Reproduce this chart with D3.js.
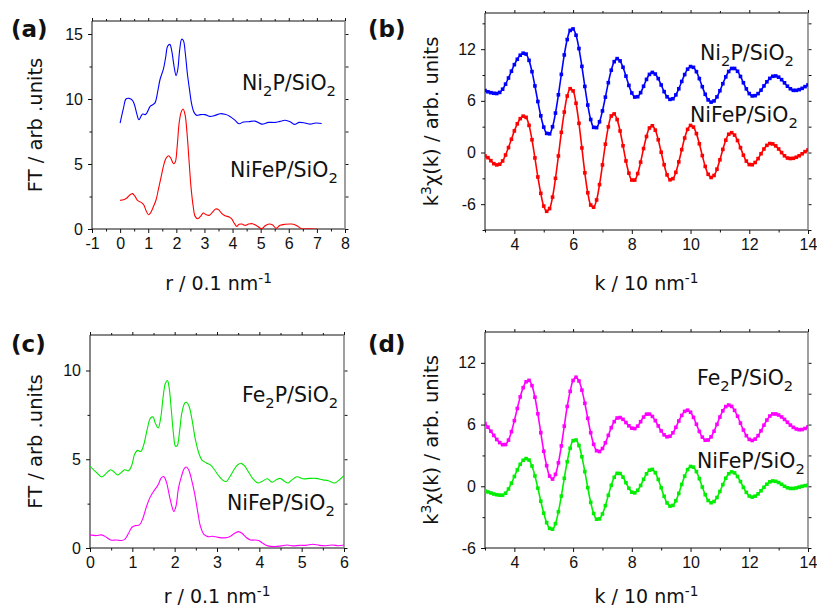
<!DOCTYPE html>
<html>
<head>
<meta charset="utf-8">
<script src="https://cdn.jsdelivr.net/npm/d3@7"></script>
<style>
body { margin: 0; background: #fff; }
svg text { font-family: "DejaVu Sans", sans-serif; fill: #111; }
.tick text { font-family: "Liberation Sans", Arial, sans-serif; font-size: 16px; }
</style>
</head>
<body>
<svg id="chart" width="817" height="612"></svg>
<script>
// ---- (a) FT, Ni2P and NiFeP ----
var rNi2P = [0,0.12,0.21,0.32,0.44,0.51,0.59,0.67,0.75,0.80,0.89,0.95,1.07,1.16,1.24,1.34,1.42,1.54,1.62,1.69,1.77,1.84,1.92,1.99,2.05,2.12,2.19,2.25,2.32,2.39,2.47,2.55,2.63,2.73,2.85,3.02,3.2,3.38,3.56,3.73,3.91,4.09,4.23,4.39,4.57,4.8,5.04,5.28,5.51,5.69,5.87,6.05,6.2,6.37,6.58,6.76,6.96,7.17];
var ftNi2P = [8.15,9.3,10.0,10.05,9.9,9.56,8.9,8.4,8.7,8.84,8.8,8.92,9.43,9.56,9.7,10.6,11.5,12.3,13.2,14.05,14.2,13.66,12.5,11.8,12.25,13.8,14.6,14.5,13.5,12.0,10.7,9.56,8.97,8.74,8.8,8.8,8.66,8.74,8.87,8.82,8.66,8.36,8.1,8.23,8.25,8.3,8.07,8.2,8.2,8.28,8.36,8.25,8.05,8.2,8.15,8.07,8.15,8.12];
var rNiFePa = [0,0.12,0.24,0.33,0.44,0.53,0.63,0.75,0.84,0.92,1.01,1.08,1.18,1.28,1.36,1.45,1.54,1.62,1.72,1.80,1.90,1.96,2.03,2.1,2.17,2.24,2.31,2.38,2.45,2.52,2.6,2.67,2.76,2.86,2.96,3.06,3.17,3.28,3.40,3.50,3.62,3.73,3.88,3.97,4.07,4.15,4.23,4.33,4.45,4.57,4.71,4.86,5.04,5.16,5.3,5.43,5.55,5.69,5.87,6.11,6.29,6.46,6.70,6.88,7.0];
var ftNiFePa = [2.2,2.25,2.38,2.59,2.72,2.51,2.18,2.05,1.87,1.43,1.1,1.23,1.69,2.25,3.02,3.92,4.82,5.38,5.64,5.46,5.02,5.13,6.36,8.15,8.97,9.23,8.79,7.38,5.33,3.28,1.74,0.97,0.79,0.97,1.23,1.1,1.05,1.28,1.54,1.49,1.18,1.02,0.92,0.77,0.41,0.2,0.36,0.38,0.28,0.38,0.41,0.25,0.02,0.25,0.38,0.3,0.05,0.28,0.36,0.38,0.25,0.02,0.02,0.0,0.0];

// ---- (c) FT, Fe2P and NiFeP ----
var rFe2P = [0,0.15,0.28,0.39,0.49,0.58,0.66,0.74,0.82,0.91,0.99,1.05,1.12,1.2,1.27,1.35,1.43,1.49,1.54,1.61,1.67,1.73,1.78,1.83,1.87,1.92,1.97,2.02,2.06,2.12,2.17,2.24,2.28,2.34,2.41,2.49,2.57,2.64,2.75,2.85,2.94,3.04,3.14,3.22,3.3,3.4,3.49,3.57,3.65,3.75,3.85,3.97,4.06,4.19,4.3,4.4,4.49,4.6,4.67,4.77,4.89,5.03,5.19,5.34,5.5,5.63,5.78,5.89,6.0];
var ftFe2P = [4.6,4.26,4.0,4.22,4.41,4.26,4.11,4.26,4.41,4.35,4.69,5.26,5.5,5.44,5.82,6.67,7.33,7.38,7.05,6.76,7.33,8.55,9.27,9.44,9.02,7.8,6.48,5.73,5.77,6.67,7.61,8.18,8.21,7.99,7.23,6.1,5.35,4.97,4.79,4.67,4.41,4.07,3.81,3.75,4.0,4.41,4.69,4.77,4.63,4.26,3.9,3.66,3.75,3.9,3.71,3.84,3.92,3.75,3.66,3.84,4.01,3.9,3.92,3.92,3.84,3.79,3.66,3.84,4.07];
var rNiFePc = [0,0.15,0.27,0.39,0.49,0.62,0.74,0.82,0.91,0.99,1.07,1.17,1.25,1.33,1.41,1.5,1.61,1.68,1.74,1.8,1.88,1.94,1.98,2.03,2.09,2.16,2.22,2.27,2.33,2.39,2.47,2.55,2.61,2.69,2.79,2.9,3.02,3.18,3.3,3.42,3.51,3.59,3.69,3.79,3.89,3.98,4.08,4.2,4.36,4.52,4.66,4.79,4.95,5.11,5.26,5.42,5.58,5.74,5.86,6.0];
var ftNiFePc = [0.74,0.7,0.74,0.6,0.45,0.45,0.42,0.49,0.83,1.17,1.26,1.3,1.68,2.3,2.81,3.18,3.56,3.94,4.03,3.75,2.9,2.3,2.05,2.34,3.37,4.03,4.45,4.56,4.41,3.94,3.09,1.96,1.21,0.77,0.64,0.66,0.6,0.57,0.64,0.83,0.92,0.83,0.59,0.45,0.45,0.42,0.27,0.12,0.08,0.12,0.17,0.12,0.15,0.15,0.21,0.15,0.13,0.17,0.13,0.17];

// ---- k grid shared by (b) and (d) ----
var kValues = [
  3.0,3.1,3.2,3.3,3.4,3.5,3.6,3.7,3.8,3.9,
  4.0,4.1,4.2,4.3,4.4,4.5,4.6,4.7,4.8,4.9,
  5.0,5.1,5.2,5.3,5.4,5.5,5.6,5.7,5.8,5.9,
  6.0,6.1,6.2,6.3,6.4,6.5,6.6,6.7,6.8,6.9,
  7.0,7.1,7.2,7.3,7.4,7.5,7.6,7.7,7.8,7.9,
  8.0,8.1,8.2,8.3,8.4,8.5,8.6,8.7,8.8,8.9,
  9.0,9.1,9.2,9.3,9.4,9.5,9.6,9.7,9.8,9.9,
  10.0,10.1,10.2,10.3,10.4,10.5,10.6,10.7,10.8,10.9,
  11.0,11.1,11.2,11.3,11.4,11.5,11.6,11.7,11.8,11.9,
  12.0,12.1,12.2,12.3,12.4,12.5,12.6,12.7,12.8,12.9,
  13.0,13.1,13.2,13.3,13.4,13.5,13.6,13.7,13.8,13.9,
  14.0];

// ---- (b) k3 chi(k) ----
var chiNi2P = [
  7.2,7.05,6.95,6.88,6.85,6.98,7.35,7.94,8.65,9.44,
  10.2,10.83,11.3,11.53,11.43,10.7,9.39,7.73,5.92,4.26,
  2.95,2.22,2.17,2.99,4.58,6.7,9.07,11.33,13.12,14.18,
  14.35,13.62,12.07,10.0,7.67,5.51,3.83,2.92,2.89,3.57,
  4.83,6.43,8.11,9.56,10.55,10.9,10.64,9.9,8.87,7.79,
  6.91,6.44,6.48,6.95,7.69,8.49,9.07,9.3,9.11,8.58,
  7.84,7.07,6.47,6.17,6.24,6.69,7.4,8.25,9.05,9.68,
  9.98,9.89,9.39,8.58,7.64,6.76,6.11,5.85,5.99,6.46,
  7.17,7.99,8.78,9.41,9.76,9.76,9.43,8.83,8.1,7.39,
  6.84,6.57,6.6,6.84,7.24,7.73,8.21,8.61,8.85,8.89,
  8.75,8.46,8.09,7.7,7.4,7.22,7.22,7.3,7.45,7.65,
  7.85];
var chiNiFePb = [
  -0.4,-0.6,-0.95,-1.3,-1.44,-1.36,-0.98,-0.29,0.57,1.54,
  2.51,3.33,3.93,4.22,4.08,3.15,1.48,-0.63,-2.84,-4.74,
  -6.22,-6.83,-6.51,-5.18,-3.0,-0.4,2.34,4.7,6.56,7.41,
  7.15,5.72,3.39,0.53,-2.36,-4.67,-6.1,-6.35,-5.51,-3.73,
  -1.44,0.97,2.98,4.24,4.48,3.82,2.5,0.78,-0.98,-2.4,
  -3.2,-3.2,-2.45,-1.12,0.46,1.86,2.85,3.1,2.59,1.48,
  0.03,-1.42,-2.6,-3.17,-3.04,-2.3,-1.09,0.33,1.68,2.69,
  3.14,2.95,2.19,1.01,-0.36,-1.62,-2.53,-2.9,-2.67,-1.93,
  -0.85,0.36,1.43,2.12,2.3,2.02,1.39,0.56,-0.31,-1.0,
  -1.4,-1.42,-1.16,-0.71,-0.14,0.41,0.83,1.04,1.0,0.77,
  0.41,-0.01,-0.38,-0.64,-0.7,-0.67,-0.55,-0.38,-0.15,0.1,
  0.3];

// ---- (d) k3 chi(k) ----
var chiFe2P = [
  6.1,5.75,5.35,4.95,4.55,4.25,4.05,4.06,4.49,5.31,
  6.38,7.57,8.69,9.59,10.16,10.3,9.79,8.66,7.05,5.21,
  3.41,2.0,0.99,0.7,1.16,2.28,3.93,5.85,7.76,9.23,
  10.29,10.6,10.24,9.35,8.07,6.61,5.21,4.08,3.46,3.38,
  3.67,4.23,4.95,5.7,6.28,6.64,6.68,6.51,6.2,5.88,
  5.65,5.61,5.85,6.28,6.73,7.01,7.02,6.79,6.38,5.87,
  5.38,5.0,4.81,4.87,5.2,5.73,6.35,6.89,7.28,7.4,
  7.2,6.7,6.03,5.33,4.78,4.48,4.5,4.81,5.35,6.03,
  6.73,7.34,7.75,7.9,7.77,7.38,6.81,6.14,5.47,4.92,
  4.56,4.45,4.59,4.92,5.4,5.94,6.44,6.83,7.03,7.03,
  6.93,6.74,6.5,6.22,5.95,5.73,5.57,5.5,5.52,5.62,
  5.78];
var chiNiFePd = [
  -0.45,-0.55,-0.65,-0.75,-0.82,-0.86,-0.86,-0.67,-0.26,0.3,
  0.95,1.59,2.14,2.53,2.69,2.55,1.97,1.01,-0.18,-1.45,
  -2.61,-3.54,-4.09,-4.17,-3.63,-2.48,-0.95,0.78,2.39,3.69,
  4.43,4.5,3.96,2.87,1.43,-0.13,-1.57,-2.64,-3.2,-3.17,
  -2.69,-1.88,-0.87,0.09,0.87,1.26,1.24,0.89,0.35,-0.19,
  -0.57,-0.64,-0.39,0.08,0.68,1.21,1.57,1.64,1.32,0.67,
  -0.15,-0.97,-1.62,-1.93,-1.86,-1.41,-0.69,0.18,0.99,1.62,
  1.93,1.86,1.43,0.74,-0.07,-0.82,-1.38,-1.6,-1.48,-1.09,
  -0.5,0.16,0.78,1.22,1.4,1.3,0.95,0.46,-0.11,-0.59,
  -0.95,-1.05,-0.96,-0.74,-0.43,-0.1,0.2,0.43,0.52,0.48,
  0.36,0.19,0.0,-0.14,-0.21,-0.21,-0.16,-0.08,0.0,0.06,
  0.1];

// tick values
var rTicksA = [-1,0,1,2,3,4,5,6,7,8];
var rMinorA = [-0.5,0.5,1.5,2.5,3.5,4.5,5.5,6.5,7.5];
var ftTicksA = [0,5,10,15];
var ftMinorA = [2.5,7.5,12.5];
var rTicksC = [0,1,2,3,4,5,6];
var rMinorC = [0.5,1.5,2.5,3.5,4.5,5.5];
var ftTicksC = [0,5,10];
var ftMinorC = [2.5,7.5];
var kTicks = [4,6,8,10,12,14];
var kMinor = [3,5,7,9,11,13];
var chiTicks = [-6,0,6,12];
var chiMinorB = [-9,-3,3,9,15];
var chiMinorD = [-3,3,9];

var svg = d3.select("#chart");

function zipXY(xs, ys) {
  return xs.map(function (d, i) { return [d, ys[i]]; });
}

// text with sub/superscripts: parts = [[text, "sup"|"sub"|undefined], ...]
function richText(sel, parts, size) {
  var shift = 0;
  parts.forEach(function (p) {
    var t = sel.append("tspan").text(p[0]);
    var target = 0;
    if (p[1] === "sup") target = -size * 0.38;
    if (p[1] === "sub") target = size * 0.3;
    if (p[1]) t.attr("font-size", size * 0.72);
    t.attr("dy", target - shift);
    shift = target;
  });
}

function panel(o) {
  var x = d3.scaleLinear().domain(o.xDomain).range([o.left, o.right]);
  var y = d3.scaleLinear().domain(o.yDomain).range([o.bottom, o.top]);
  var g = svg.append("g");

  var clipId = "clip" + o.name;
  svg.append("clipPath").attr("id", clipId).append("rect")
    .attr("x", o.left).attr("y", o.top)
    .attr("width", o.right - o.left).attr("height", o.bottom - o.top);

  // axes: bottom, top, left, right (major + minor)
  function addAxis(axis, tr, values, size, labels) {
    var a = g.append("g").attr("transform", tr)
      .call(axis.tickValues(values).tickSize(size).tickSizeOuter(0).tickPadding(5)
        .tickFormat(labels ? function (d) { return String(d); } : ""));
    a.select(".domain").remove();
    a.selectAll(".tick line").attr("stroke", "#111");
    return a;
  }
  addAxis(d3.axisBottom(x), "translate(0," + o.bottom + ")", o.xTicks, 4, true);
  addAxis(d3.axisBottom(x), "translate(0," + o.bottom + ")", o.xMinor, 2.5, false);
  addAxis(d3.axisTop(x), "translate(0," + o.top + ")", o.xTicks, 3, false);
  addAxis(d3.axisTop(x), "translate(0," + o.top + ")", o.xMinor, 2, false);
  addAxis(d3.axisLeft(y), "translate(" + o.left + ",0)", o.yTicks, 4, true);
  addAxis(d3.axisLeft(y), "translate(" + o.left + ",0)", o.yMinor, 2.5, false);
  addAxis(d3.axisRight(y), "translate(" + o.right + ",0)", o.yTicks, 3.5, false);
  addAxis(d3.axisRight(y), "translate(" + o.right + ",0)", o.yMinor, 3.5, false);

  // frame
  g.append("path")
    .attr("d", "M" + o.right + "," + o.top + "H" + o.left + "V" + o.bottom + "H" + o.right)
    .attr("fill", "none").attr("stroke", "#111").attr("stroke-width", 1);
  g.append("line")
    .attr("x1", o.right).attr("x2", o.right).attr("y1", o.top).attr("y2", o.bottom)
    .attr("stroke", "#888").attr("stroke-width", 1.6);

  var line = d3.line()
    .x(function (d) { return x(d[0]); })
    .y(function (d) { return y(d[1]); })
    .curve(d3.curveCatmullRom.alpha(0.5));

  var plot = g.append("g").attr("clip-path", "url(#" + clipId + ")");
  o.series.forEach(function (s) {
    var pts = zipXY(s.x, s.y);
    plot.append("path").datum(pts)
      .attr("d", line)
      .attr("fill", "none")
      .attr("stroke", s.color)
      .attr("stroke-width", s.markers ? 1.6 : 1.1);
    if (s.markers) {
      plot.selectAll(null).data(pts).enter().append("rect")
        .attr("x", function (d) { return x(d[0]) - 1.8; })
        .attr("y", function (d) { return y(d[1]) - 1.8; })
        .attr("width", 3.6).attr("height", 3.6)
        .attr("fill", s.color);
    }
  });

  // series names
  o.names.forEach(function (n) {
    var t = g.append("text").attr("x", n.x).attr("y", n.y).attr("font-size", 20.5);
    richText(t, n.parts, 20.5);
  });

  // panel letter
  g.append("text").attr("x", o.letterX).attr("y", o.letterY)
    .attr("font-size", 23).attr("font-weight", "bold").text(o.letter);

  // axis titles
  var xt = g.append("text")
    .attr("x", (o.left + o.right) / 2).attr("y", o.xTitleY)
    .attr("text-anchor", "middle").attr("font-size", 19);
  richText(xt, o.xTitle, 19);

  var yc = (o.top + o.bottom) / 2;
  var yt = g.append("text")
    .attr("transform", "translate(" + o.yTitleX + "," + yc + ") rotate(-90)")
    .attr("text-anchor", "middle").attr("font-size", 19.5);
  richText(yt, o.yTitle, 19.5);
}

var ftTitle = [["FT / arb .units"]];
var chiTitle = [["k"], ["3", "sup"], ["\u03c7(k) / arb. units"]];
var rTitle = [["r / 0.1 nm"], ["-1", "sup"]];
var kTitle = [["k / 10 nm"], ["-1", "sup"]];
var ni2pName = [["Ni"], ["2", "sub"], ["P/SiO"], ["2", "sub"]];
var fe2pName = [["Fe"], ["2", "sub"], ["P/SiO"], ["2", "sub"]];
var nifepName = [["NiFeP/SiO"], ["2", "sub"]];

panel({
  name: "a", left: 92, right: 345, top: 21, bottom: 229,
  xDomain: [-1, 8], yDomain: [0, 16],
  xTicks: rTicksA, xMinor: rMinorA, yTicks: ftTicksA, yMinor: ftMinorA,
  series: [
    { x: rNi2P, y: ftNi2P, color: "#0000ff" },
    { x: rNiFePa, y: ftNiFePa, color: "#ff0000" }
  ],
  names: [{ x: 242, y: 90, parts: ni2pName }, { x: 230, y: 177, parts: nifepName }],
  letter: "(a)", letterX: 11, letterY: 37,
  xTitle: rTitle, xTitleY: 290, yTitle: ftTitle, yTitleX: 42
});

panel({
  name: "b", left: 485, right: 808, top: 13, bottom: 230,
  xDomain: [3, 14], yDomain: [-9, 16.2],
  xTicks: kTicks, xMinor: kMinor, yTicks: chiTicks, yMinor: chiMinorB,
  series: [
    { x: kValues, y: chiNi2P, color: "#0000ff", markers: true },
    { x: kValues, y: chiNiFePb, color: "#ff0000", markers: true }
  ],
  names: [{ x: 700, y: 60, parts: ni2pName }, { x: 690, y: 122, parts: nifepName }],
  letter: "(b)", letterX: 368, letterY: 37,
  xTitle: kTitle, xTitleY: 290, yTitle: chiTitle, yTitleX: 438
});

panel({
  name: "c", left: 90, right: 344, top: 335, bottom: 548,
  xDomain: [0, 6], yDomain: [0, 12],
  xTicks: rTicksC, xMinor: rMinorC, yTicks: ftTicksC, yMinor: ftMinorC,
  series: [
    { x: rFe2P, y: ftFe2P, color: "#00e800" },
    { x: rNiFePc, y: ftNiFePc, color: "#ff00ff" }
  ],
  names: [{ x: 242, y: 402, parts: fe2pName }, { x: 227, y: 510, parts: nifepName }],
  letter: "(c)", letterX: 11, letterY: 352,
  xTitle: rTitle, xTitleY: 603, yTitle: ftTitle, yTitleX: 42
});

panel({
  name: "d", left: 485, right: 808, top: 332, bottom: 548,
  xDomain: [3, 14], yDomain: [-6, 15],
  xTicks: kTicks, xMinor: kMinor, yTicks: chiTicks, yMinor: chiMinorD,
  series: [
    { x: kValues, y: chiFe2P, color: "#ff00ff", markers: true },
    { x: kValues, y: chiNiFePd, color: "#00ee00", markers: true }
  ],
  names: [{ x: 697, y: 385, parts: fe2pName }, { x: 697, y: 468, parts: nifepName }],
  letter: "(d)", letterX: 368, letterY: 352,
  xTitle: kTitle, xTitleY: 603, yTitle: chiTitle, yTitleX: 438
});
</script>
</body>
</html>
